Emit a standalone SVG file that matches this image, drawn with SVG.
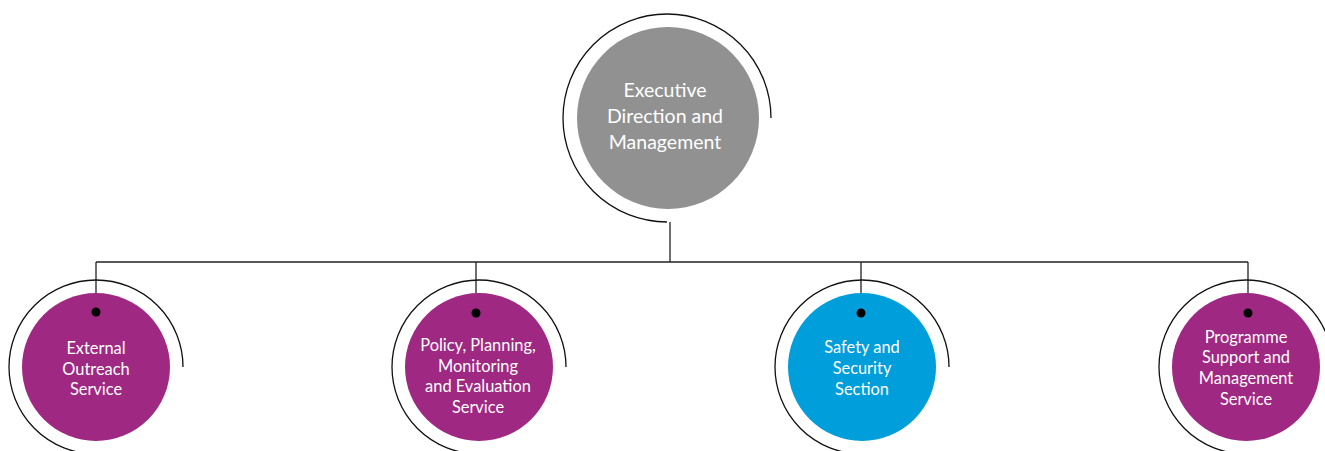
<svg xmlns="http://www.w3.org/2000/svg" width="1325" height="451" viewBox="0 0 1325 451">
<style>
.ring{fill:none;stroke:#111;stroke-width:1.3}
.conn{fill:none;stroke:#222;stroke-width:1.3}
.dot{fill:#000}
.lbl{font-family:Lato,"Liberation Sans",sans-serif;fill:#fff;text-anchor:middle;dominant-baseline:central}
.top{font-size:19.5px}
.sub{font-size:16.4px}
.purple{fill:#9f2882}
.blue{fill:#009edb}
.grey{fill:#919191}
</style>
<rect width="1325" height="451" fill="#fff"/>
<g id="connectors">
<path class="conn" d="M670 222 V262 M96 262 H1248 M96 262 V313 M476 262 V313 M861 262 V313 M1248 262 V313"/>
</g>
<g id="executive">
<circle class="grey" cx="668" cy="118" r="91"/>
<path class="ring" d="M771 118 A104 104 0 1 0 667 222"/>
<text class="lbl top"><tspan x="665" y="89">Executive</tspan><tspan x="665" y="115">Direction and</tspan><tspan x="665" y="141">Management</tspan></text>
</g>
<g id="external">
<circle class="purple" cx="96" cy="367" r="74"/>
<path class="ring" d="M183 367 A87 87 0 1 0 96 454"/>
<circle class="dot" cx="96" cy="312" r="4.5"/>
<text class="lbl sub"><tspan x="96" y="347">External</tspan><tspan x="96" y="368">Outreach</tspan><tspan x="96" y="388">Service</tspan></text>
</g>
<g id="policy">
<circle class="purple" cx="479" cy="367" r="74"/>
<path class="ring" d="M566 367 A87 87 0 1 0 479 454"/>
<circle class="dot" cx="476" cy="313" r="4.5"/>
<text class="lbl sub"><tspan x="478" y="344">Policy, Planning,</tspan><tspan x="478" y="365">Monitoring</tspan><tspan x="478" y="385">and Evaluation</tspan><tspan x="478" y="406">Service</tspan></text>
</g>
<g id="safety">
<circle class="blue" cx="862" cy="367" r="74"/>
<path class="ring" d="M949 367 A87 87 0 1 0 862 454"/>
<circle class="dot" cx="861" cy="313" r="4.5"/>
<text class="lbl sub"><tspan x="862" y="346">Safety and</tspan><tspan x="862" y="367">Security</tspan><tspan x="862" y="388">Section</tspan></text>
</g>
<g id="programme">
<circle class="purple" cx="1246" cy="367" r="74"/>
<path class="ring" d="M1333 367 A87 87 0 1 0 1246 454"/>
<circle class="dot" cx="1248" cy="313" r="4.5"/>
<text class="lbl sub"><tspan x="1246" y="336">Programme</tspan><tspan x="1246" y="356">Support and</tspan><tspan x="1246" y="377">Management</tspan><tspan x="1246" y="398">Service</tspan></text>
</g>
</svg>
